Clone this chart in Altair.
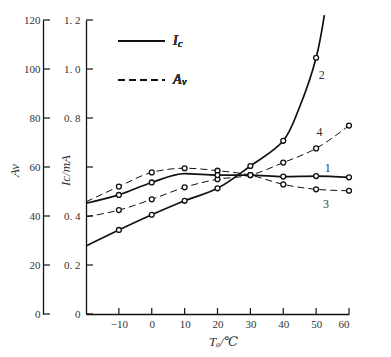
import altair as alt
import pandas as pd

# ---------------- data ----------------
T_FULL = [-20, -10, 0, 10, 20, 30, 40, 50, 60]

# curve 1 (solid, Ic)
c1_T = T_FULL
c1_Ic = [0.452, 0.486, 0.537, 0.573, 0.567, 0.567, 0.561, 0.563, 0.558]
c1_mark = [0, 1, 1, 0, 1, 1, 1, 1, 1]

# curve 2 (solid, Ic)
c2_T = [-20, -10, 0, 10, 20, 30, 40, 45, 50, 52.5]
c2_Ic = [0.278, 0.343, 0.405, 0.462, 0.513, 0.604, 0.707, 0.846, 1.046, 1.22]
c2_mark = [0, 1, 1, 1, 1, 1, 1, 0, 1, 0]

# curve 3 (dashed, Av)
c3_T = T_FULL
c3_Av = [45.8, 52.0, 57.8, 59.5, 58.5, 56.7, 52.9, 50.9, 50.3]
c3_mark = [0, 1, 1, 1, 1, 1, 1, 1, 1]

# curve 4 (dashed, Av)
c4_T = T_FULL
c4_Av = [39.7, 42.4, 46.8, 51.7, 55.0, 56.7, 61.8, 67.6, 76.9]
c4_mark = [0, 1, 1, 1, 1, 1, 1, 1, 1]

# curve number labels
lab_text = ["1", "2", "3", "4"]
lab_T = [53.5, 51.7, 53.0, 51.0]
lab_Ic = [0.595, 0.976, 0.449, 0.744]

# axis ticks / labels
x_ticks = [-10, 0, 10, 20, 30, 40, 50, 60]
x_labels = ["\u221210", "0", "10", "20", "30", "40", "50", "60"]
ic_ticks = [0, 0.2, 0.4, 0.6, 0.8, 1.0, 1.2]
ic_labels = ["0", "0. 2", "0. 4", "", "0. 8", "1. 0", "1. 2"]
av_ticks = [0, 20, 40, 60, 80, 100, 120]
av_labels = ["0", "20", "40", "60", "80", "100", "120"]


def label_expr(values, labels):
    expr = "''"
    for v, l in reversed(list(zip(values, labels))):
        expr = f"abs(datum.value - ({v})) < 1e-6 ? '{l}' : ({expr})"
    return expr


# ---------------- tables ----------------
ic_df = pd.concat([
    pd.DataFrame({"T": c1_T, "Ic": c1_Ic, "curve": "1", "mark": c1_mark}),
    pd.DataFrame({"T": c2_T, "Ic": c2_Ic, "curve": "2", "mark": c2_mark}),
], ignore_index=True)
av_df = pd.concat([
    pd.DataFrame({"T": c3_T, "Av": c3_Av, "curve": "3", "mark": c3_mark}),
    pd.DataFrame({"T": c4_T, "Av": c4_Av, "curve": "4", "mark": c4_mark}),
], ignore_index=True)
lab_df = pd.DataFrame({"T": lab_T, "Ic": lab_Ic, "text": lab_text})
ic_tick_df = pd.DataFrame({"Ic": ic_ticks})
av_tick_df = pd.DataFrame({"Av": av_ticks})
x_tick_df = pd.DataFrame({"T": x_ticks})

W, H = 263, 294
SERIF = "Liberation Serif, Times New Roman, DejaVu Serif, serif"
INK = "#111111"
LAB = "#333333"
DASH = [7, 4]

x_scale = alt.Scale(domain=[-20, 60], nice=False, zero=False)
x_axis = alt.Axis(values=x_ticks, labelExpr=label_expr(x_ticks, x_labels),
                  ticks=False, grid=False, domainColor=INK, domainWidth=1.3,
                  labelFont=SERIF, labelFontSize=11, labelColor=LAB, labelPadding=4,
                  title="T\u2090/\u2103", titleFont=SERIF, titleFontSize=13,
                  titleFontStyle="italic", titleFontWeight="normal", titleColor=LAB,
                  titleX=137, titleY=31, titleBaseline="alphabetic")
X = alt.X("T:Q", scale=x_scale, axis=x_axis)

ic_scale = alt.Scale(domain=[0, 1.2], nice=False)
ic_axis = alt.Axis(orient="left", values=ic_ticks, labelExpr=label_expr(ic_ticks, ic_labels),
                   ticks=False, grid=False, domainColor=INK, domainWidth=1.3,
                   labelFont=SERIF, labelFontSize=11, labelColor=LAB, labelPadding=6,
                   title="Ic/mA", titleFont=SERIF, titleFontSize=13,
                   titleFontStyle="italic", titleFontWeight="normal", titleColor=LAB,
                   titleX=-14, titleY=150, titleAlign="center")
Y_IC = alt.Y("Ic:Q", scale=ic_scale, axis=ic_axis)

av_scale = alt.Scale(domain=[0, 120], nice=False)
av_axis = alt.Axis(orient="left", offset=43, values=av_ticks,
                   labelExpr=label_expr(av_ticks, av_labels),
                   ticks=False, grid=False, domainColor=INK, domainWidth=1.3,
                   labelFont=SERIF, labelFontSize=11, labelColor=LAB, labelPadding=3,
                   title="Av", titleFont=SERIF, titleFontSize=13,
                   titleFontStyle="italic", titleFontWeight="normal", titleColor=LAB,
                   titleX=-22, titleY=150, titleAlign="center")
Y_AV = alt.Y("Av:Q", scale=av_scale, axis=av_axis)

# ---------------- Ic group ----------------
ic_line1 = alt.Chart(ic_df).transform_filter("datum.curve == '1'").mark_line(
    interpolate="monotone", color=INK, strokeWidth=1.7).encode(x=X, y=Y_IC)
ic_line2 = alt.Chart(ic_df).transform_filter("datum.curve == '2'").mark_line(
    interpolate="catmull-rom", color=INK, strokeWidth=1.7).encode(x=X, y=Y_IC)
ic_pts = alt.Chart(ic_df).transform_filter("datum.mark == 1").mark_point(
    shape="circle", filled=True, fill="white", stroke=INK, strokeWidth=1.3, size=24, opacity=1
).encode(x=X, y=Y_IC)
ic_ticks_m = alt.Chart(ic_tick_df).mark_rule(color=INK, strokeWidth=1.2).encode(
    y=Y_IC, x=alt.value(0), x2=alt.value(7))
x_ticks_m = alt.Chart(x_tick_df).mark_rule(color=INK, strokeWidth=1.2).encode(
    x=X, y=alt.value(H), y2=alt.value(H - 6))
labels_m = alt.Chart(lab_df).mark_text(font=SERIF, fontSize=12, color=LAB).encode(
    x=X, y=Y_IC, text="text:N")

# legend
leg_solid = alt.Chart(x_tick_df).mark_rule(color=INK, strokeWidth=1.7).encode(
    x=alt.value(32), x2=alt.value(79), y=alt.value(21))
leg_dash = alt.Chart(x_tick_df).mark_rule(color=INK, strokeWidth=1.0, strokeDash=DASH).encode(
    x=alt.value(32), x2=alt.value(79), y=alt.value(60))
leg_I = alt.Chart(x_tick_df).mark_text(font=SERIF, fontSize=14, fontStyle="italic", color=LAB,
                                       align="left", baseline="middle").encode(
    x=alt.value(87), y=alt.value(21), text=alt.value("I"))
leg_c = alt.Chart(x_tick_df).mark_text(font=SERIF, fontSize=10, fontStyle="italic", color=LAB,
                                       align="left", baseline="middle").encode(
    x=alt.value(92), y=alt.value(24), text=alt.value("c"))
leg_A = alt.Chart(x_tick_df).mark_text(font=SERIF, fontSize=14, fontStyle="italic", color=LAB,
                                       align="left", baseline="middle").encode(
    x=alt.value(87), y=alt.value(60), text=alt.value("A"))
leg_v = alt.Chart(x_tick_df).mark_text(font=SERIF, fontSize=10, fontStyle="italic", color=LAB,
                                       align="left", baseline="middle").encode(
    x=alt.value(96), y=alt.value(62), text=alt.value("v"))

ic_group = alt.layer(ic_line1, ic_line2, ic_pts, ic_ticks_m, labels_m, x_ticks_m,
                     leg_solid, leg_dash, leg_I, leg_c, leg_A, leg_v)

# ---------------- Av group ----------------
av_lines = alt.Chart(av_df).mark_line(interpolate="monotone", color=INK, strokeWidth=1.0,
                                      strokeDash=DASH).encode(x=X, y=Y_AV, detail="curve:N")
av_pts = alt.Chart(av_df).transform_filter("datum.mark == 1").mark_point(
    shape="circle", filled=True, fill="white", stroke=INK, strokeWidth=1.3, size=24, opacity=1
).encode(x=X, y=Y_AV)
av_ticks_m = alt.Chart(av_tick_df).mark_rule(color=INK, strokeWidth=1.2).encode(
    y=Y_AV, x=alt.value(-43), x2=alt.value(-36))

av_group = alt.layer(av_lines, av_ticks_m, av_pts)

chart = alt.layer(av_group, ic_group).resolve_scale(y="independent").properties(
    width=W, height=H,
    autosize=alt.AutoSizeParams(type="none"),
    padding={"left": 78, "top": 12, "right": 30, "bottom": 35},
    background="white",
).configure_view(stroke=None)

chart.save("out.html", embed_options={"renderer": "svg", "actions": False})
